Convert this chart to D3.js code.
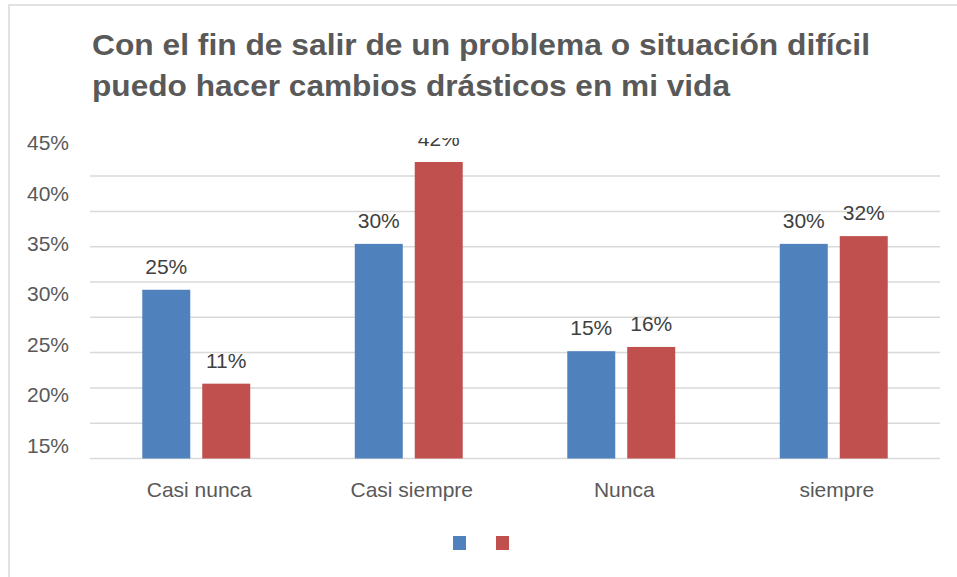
<!DOCTYPE html>
<html>
<head>
<meta charset="utf-8">
<script src="https://cdn.jsdelivr.net/npm/d3@7"></script>
<style>
  html, body { margin: 0; padding: 0; background: #fff; }
  svg { display: block; font-family: "Liberation Sans", Arial, sans-serif; }
</style>
</head>
<body>
<svg id="chart" width="957" height="577"></svg>
<script>
// data
var titleLines = ["Con el fin de salir de un problema o situación difícil",
                  "puedo hacer cambios drásticos en mi vida"];
var categories = ["Casi nunca", "Casi siempre", "Nunca", "siempre"];
var seriesNames = ["", ""];
var seriesColors = ["#4f81bd", "#c0504d"];
var blueValues = [0.239, 0.304, 0.152, 0.304];
var redValues = [0.106, 0.420, 0.158, 0.315];
var blueLabels = ["25%", "30%", "15%", "30%"];
var redLabels = ["11%", "42%", "16%", "32%"];
var yTickLabels = ["45%", "40%", "35%", "30%", "25%", "20%", "15%"];
var gridValues = [0, 0.05, 0.10, 0.15, 0.20, 0.25, 0.30, 0.35, 0.40];

var svg = d3.select("#chart");

var plot = { left: 90, right: 940, top: 138, bottom: 458.5 };

// chart frame
svg.append("rect")
	.attr("x", 9).attr("y", 5)
	.attr("width", 980).attr("height", 620)
	.attr("fill", "#fff")
	.attr("stroke", "#d9d9d9")
	.attr("stroke-width", 1.5);

// title
svg.append("g").selectAll("text")
	.data(titleLines)
	.join("text")
		.attr("x", 92)
		.attr("y", function(d, i) { return 55 + i * 41; })
		.attr("font-size", 30)
		.attr("font-weight", "bold")
		.attr("fill", "#595959")
		.attr("textLength", function(d, i) { return i == 0 ? 778 : 638; })
		.attr("lengthAdjust", "spacingAndGlyphs")
		.text(function(d) { return d; });

var y = d3.scaleLinear()
	.domain([0, 0.45])
	.range([plot.bottom, plot.bottom - 0.45 * 706]);

var x0 = d3.scaleBand()
	.domain(categories)
	.range([plot.left, plot.right])
	.paddingInner(0.492)
	.paddingOuter(0.246);

var x1 = d3.scaleBand()
	.domain([0, 1])
	.range([0, x0.bandwidth()])
	.paddingInner(0.2);

// gridlines
svg.append("g").selectAll("line")
	.data(gridValues)
	.join("line")
		.attr("x1", plot.left).attr("x2", plot.right)
		.attr("y1", function(d) { return y(d); })
		.attr("y2", function(d) { return y(d); })
		.attr("stroke", "#d9d9d9")
		.attr("stroke-width", 1.5);

// y tick labels (as drawn in the original, not aligned with gridlines)
var yLab = d3.scalePoint()
	.domain(yTickLabels)
	.range([142.7, 445]);

svg.append("g").selectAll("text")
	.data(yTickLabels)
	.join("text")
		.attr("x", 69)
		.attr("y", function(d) { return yLab(d); })
		.attr("dy", "0.36em")
		.attr("text-anchor", "end")
		.attr("font-size", 21)
		.attr("fill", "#595959")
		.text(function(d) { return d; });

// category labels
svg.append("g").selectAll("text")
	.data(categories)
	.join("text")
		.attr("x", function(d) { return x0(d) + x0.bandwidth() / 2 + 3; })
		.attr("y", 497)
		.attr("text-anchor", "middle")
		.attr("font-size", 21)
		.attr("fill", "#595959")
		.text(function(d) { return d; });

var clip = svg.append("clipPath").attr("id", "plotclip");
clip.append("rect")
	.attr("x", 0).attr("y", plot.top)
	.attr("width", 957).attr("height", 577 - plot.top);

var series = [
	{ values: blueValues, labels: blueLabels, color: seriesColors[0] },
	{ values: redValues, labels: redLabels, color: seriesColors[1] }
];

var bars = svg.append("g").attr("clip-path", "url(#plotclip)");

series.forEach(function(s, si) {
	var rows = categories.map(function(c, ci) {
		return { cat: c, value: s.values[ci], label: s.labels[ci] };
	});

	bars.append("g").selectAll("rect")
		.data(rows)
		.join("rect")
			.attr("x", function(d) { return x0(d.cat) + x1(si); })
			.attr("y", function(d) { return y(d.value); })
			.attr("width", x1.bandwidth())
			.attr("height", function(d) { return y(0) - y(d.value); })
			.attr("fill", s.color);

	bars.append("g").selectAll("text")
		.data(rows)
		.join("text")
			.attr("x", function(d) { return x0(d.cat) + x1(si) + x1.bandwidth() / 2; })
			.attr("y", function(d) { return y(d.value) - 16; })
			.attr("text-anchor", "middle")
			.attr("font-size", 21)
			.attr("fill", "#404040")
			.text(function(d) { return d.label; });
});

// legend (series have no names)
var legend = svg.append("g").selectAll("g")
	.data(seriesNames)
	.join("g")
		.attr("transform", function(d, i) { return "translate(" + (453 + i * 43) + ",536)"; });

legend.append("rect")
	.attr("width", 13).attr("height", 14)
	.attr("fill", function(d, i) { return seriesColors[i]; });

legend.append("text")
	.attr("x", 17).attr("y", 12)
	.attr("font-size", 16)
	.attr("fill", "#595959")
	.text(function(d) { return d; });
</script>
</body>
</html>
